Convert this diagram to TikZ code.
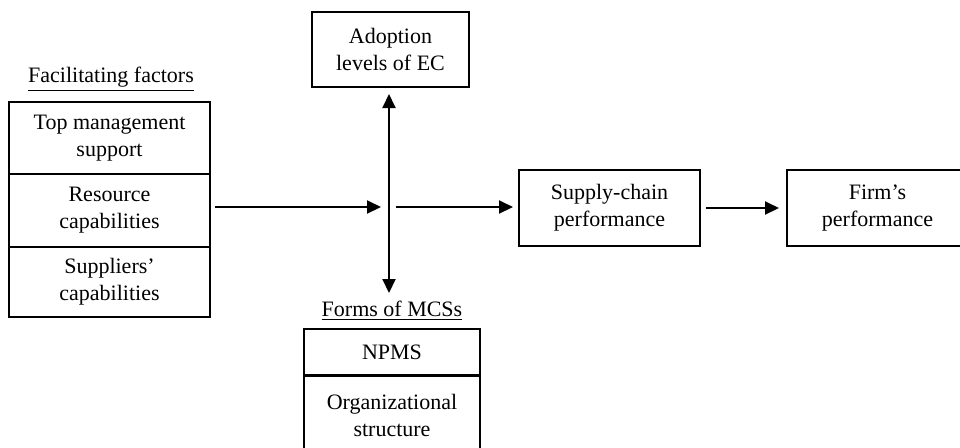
\documentclass[tikz,border=0pt]{standalone}
\usepackage{fontspec}
\setmainfont{Liberation Serif}
\usetikzlibrary{arrows.meta}
\tikzset{
  box/.style={draw, line width=1pt, align=center, inner sep=2pt, font=\fontsize{11}{13.5}\selectfont},
  lbl/.style={align=center, inner sep=1pt, font=\fontsize{11}{13.5}\selectfont},
  arr/.style={line width=1pt, -{Triangle[length=7pt,width=6.5pt]}},
}
\begin{document}
\begin{tikzpicture}[x=0.5pt,y=-0.5pt]
\useasboundingbox (0,0) rectangle (960,447);
\clip (0,0) rectangle (960,447);
% left stack
\node[lbl] (fflbl) at (111,79) {\underline{Facilitating factors}};
\node[box, minimum width=100.5pt, minimum height=36pt] (f1) at (109.5,138) {Top management\\support};
\node[box, minimum width=100.5pt, minimum height=36.5pt] (f2) at (109.5,210.5) {Resource\\capabilities};
\node[box, minimum width=100.5pt, minimum height=35pt] (f3) at (109.5,282) {Suppliers'\\capabilities};
% top
\node[box, minimum width=78.5pt, minimum height=37.5pt] (adopt) at (390.5,49.5) {Adoption\\levels of EC};
% bottom
\node[lbl] (mcslbl) at (392,311) {\underline{Forms of MCSs}};
\node[box, minimum width=88pt, minimum height=23pt] (npms) at (392,352) {NPMS};
\node[box, minimum width=88pt, minimum height=42.5pt, anchor=north] (org) at (392,375) {};
\node[lbl] (orgtxt) at (392,415) {Organizational\\structure};
% right
\node[box, minimum width=90.5pt, minimum height=38pt] (sc) at (609.5,208) {Supply-chain\\performance};
\node[box, minimum width=90.5pt, minimum height=38pt] (firm) at (877.5,208) {Firm's\\performance};
% junction
\coordinate (c) at (389,207);
\coordinate (cl) at (215,207);
\draw[arr, shorten >=4pt] (cl) -- (c);
\draw[arr, shorten <=3.5pt, shorten >=2.5pt] (c) -- (sc.west |- c);
\draw[arr, shorten >=3pt] (c) -- (c |- adopt.south);
\draw[arr] (c) -- (389,293);
\draw[arr, shorten <=2.5pt, shorten >=3.5pt] (sc.east) -- (firm.west);
\end{tikzpicture}
\end{document}
